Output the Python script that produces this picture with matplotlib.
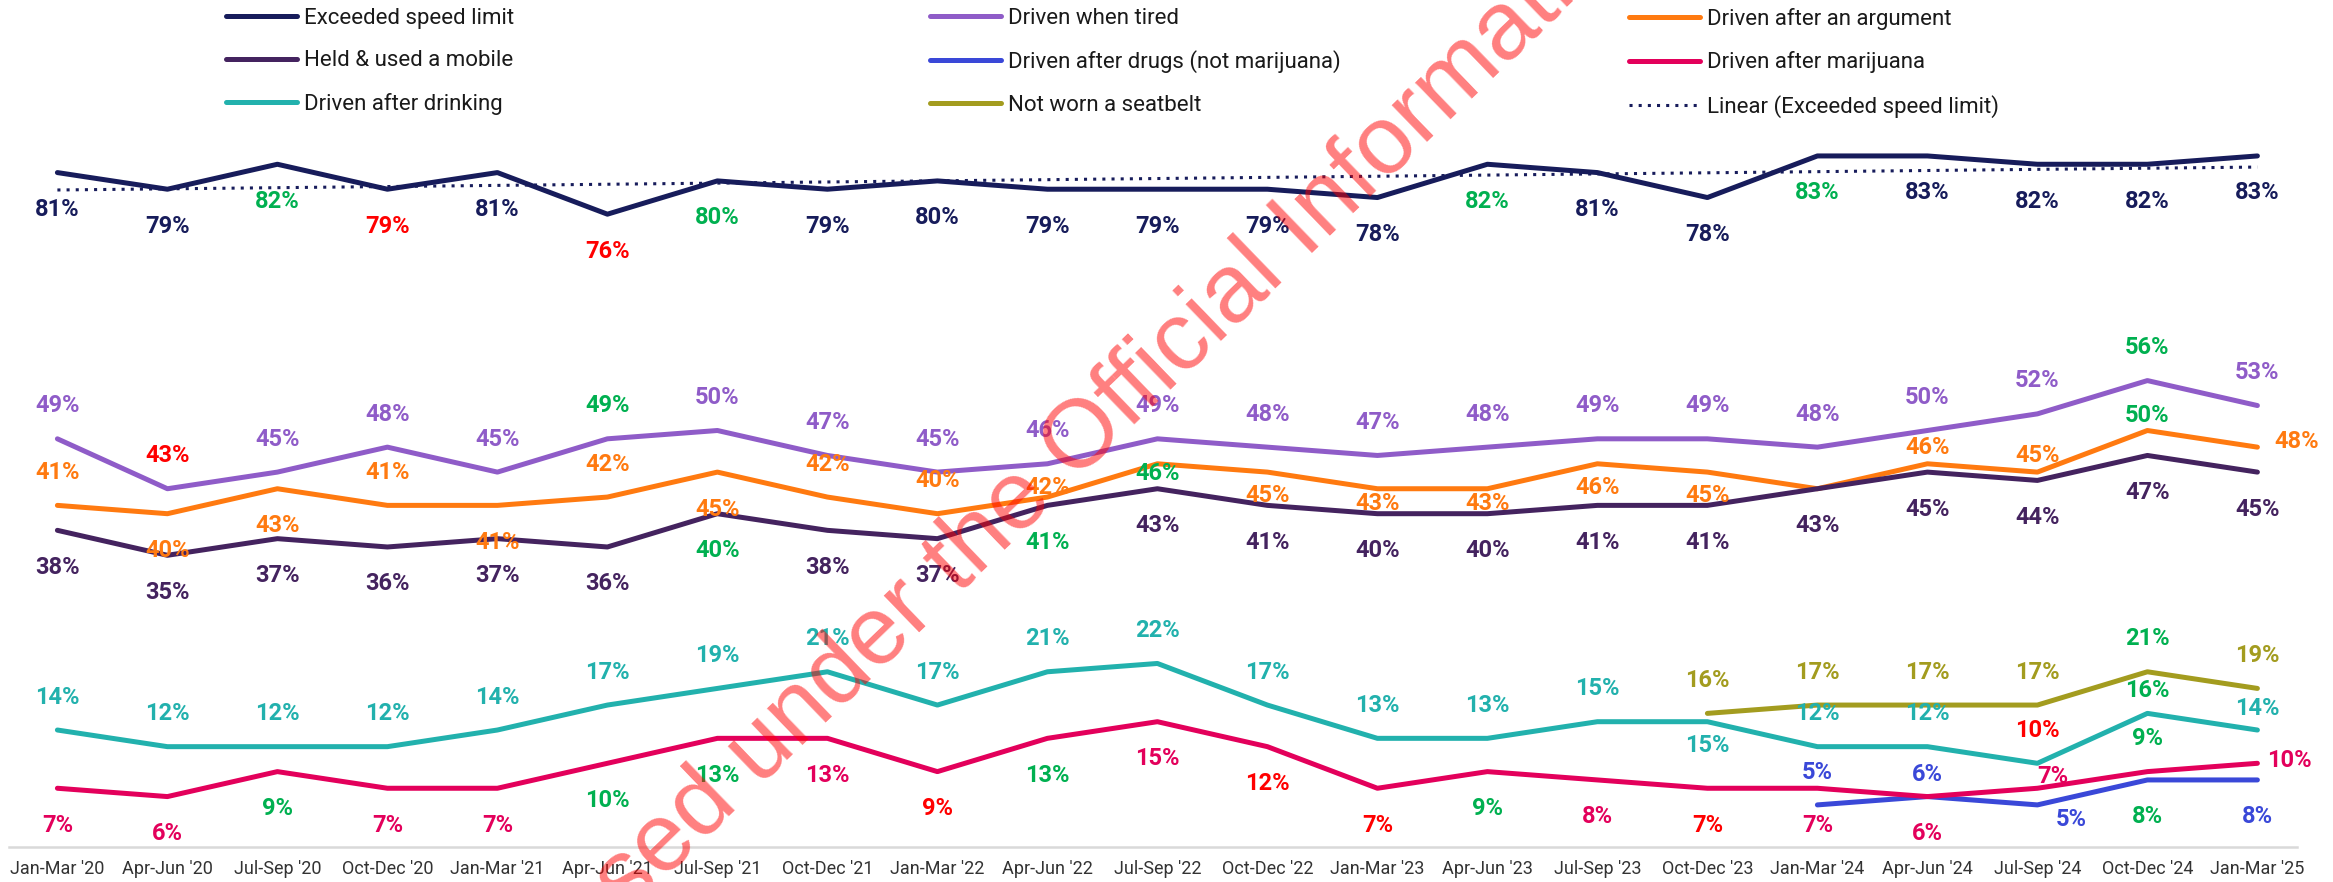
import numpy as np
import matplotlib
matplotlib.use("Agg")
import matplotlib.pyplot as plt

plt.rcParams['font.family'] = ['Roboto', 'DejaVu Sans']

quarters = ["Jan-Mar '20", "Apr-Jun '20", "Jul-Sep '20", "Oct-Dec '20",
            "Jan-Mar '21", "Apr-Jun '21", "Jul-Sep '21", "Oct-Dec '21",
            "Jan-Mar '22", "Apr-Jun '22", "Jul-Sep '22", "Oct-Dec '22",
            "Jan-Mar '23", "Apr-Jun '23", "Jul-Sep '23", "Oct-Dec '23",
            "Jan-Mar '24", "Apr-Jun '24", "Jul-Sep '24", "Oct-Dec '24",
            "Jan-Mar '25"]

speed = [81, 79, 82, 79, 81, 76, 80, 79, 80, 79, 79, 79, 78, 82, 81, 78, 83, 83, 82, 82, 83]
tired = [49, 43, 45, 48, 45, 49, 50, 47, 45, 46, 49, 48, 47, 48, 49, 49, 48, 50, 52, 56, 53]
argument = [41, 40, 43, 41, 41, 42, 45, 42, 40, 42, 46, 45, 43, 43, 46, 45, 43, 46, 45, 50, 48]
mobile = [38, 35, 37, 36, 37, 36, 40, 38, 37, 41, 43, 41, 40, 40, 41, 41, 43, 45, 44, 47, 45]
drinking = [14, 12, 12, 12, 14, 17, 19, 21, 17, 21, 22, 17, 13, 13, 15, 15, 12, 12, 10, 16, 14]
marijuana = [7, 6, 9, 7, 7, 10, 13, 13, 9, 13, 15, 12, 7, 9, 8, 7, 7, 6, 7, 9, 10]
drugs = [5, 6, 5, 8, 8]              # asked from Jan-Mar '24
seatbelt = [16, 17, 17, 17, 21, 19]  # asked from Oct-Dec '23

# significance vs previous: g = up, r = down
speed_sig = ['', '', 'g', 'r', '', 'r', 'g', '', '', '', '', '', '', 'g', '', '', 'g', '', '', '', '']
tired_sig = ['', 'r', '', '', '', 'g', '', '', '', '', '', '', '', '', '', '', '', '', '', 'g', '']
argument_sig = ['', '', '', '', '', '', '', '', '', '', 'g', '', '', '', '', '', '', '', '', 'g', '']
mobile_sig = ['', '', '', '', '', '', 'g', '', '', 'g', '', '', '', '', '', '', '', '', '', '', '']
drinking_sig = ['', '', '', '', '', '', '', '', '', '', '', '', '', '', '', '', '', '', 'r', 'g', '']
marijuana_sig = ['', '', 'g', '', '', 'g', 'g', '', 'r', 'g', '', 'r', 'r', 'g', '', 'r', '', '', '', 'g', '']
drugs_sig = ['', '', '', 'g', '']
seatbelt_sig = ['', '', '', '', 'g', '']

GREEN = '#00B050'
RED = '#FF0000'
c_speed = '#171C5B'
c_tired = '#8F5CC8'
c_arg = '#FF7A10'
c_mobile = '#44235F'
c_drugs = '#3A48D8'
c_mj = '#E3005B'
c_drink = '#22B1AD'
c_belt = '#A39C1F'

UP, DOWN = (0, 33), (0, -37)

fig = plt.figure(figsize=(23.33, 8.82), dpi=100)
ax = fig.add_axes([9 / 2333, 1 - 846.5 / 882, 2288 / 2333, 832 / 882])

x = np.arange(len(quarters))
x_drugs = x[16:]
x_belt = x[15:]

lw = 3.6
kw = dict(lw=lw, solid_capstyle='round', solid_joinstyle='round')
l_speed, = ax.plot(x, speed, color=c_speed, label='Exceeded speed limit', **kw)
l_tired, = ax.plot(x, tired, color=c_tired, label='Driven when tired', **kw)
l_arg, = ax.plot(x, argument, color=c_arg, label='Driven after an argument', **kw)
l_mobile, = ax.plot(x, mobile, color=c_mobile, label='Held & used a mobile', **kw)
l_drugs, = ax.plot(x_drugs, drugs, color=c_drugs, label='Driven after drugs (not marijuana)', **kw)
l_mj, = ax.plot(x, marijuana, color=c_mj, label='Driven after marijuana', **kw)
l_drink, = ax.plot(x, drinking, color=c_drink, label='Driven after drinking', **kw)
l_belt, = ax.plot(x_belt, seatbelt, color=c_belt, label='Not worn a seatbelt', **kw)

# linear trend of speeding
k, b = np.polyfit(x, speed, 1)
l_lin, = ax.plot(x, k * x + b, color=c_speed, lw=2.2, linestyle=(0, (1, 2)),
                 label='Linear (Exceeded speed limit)')


def add_labels(xs, vals, color, sig, offsets):
    for xi, v, s, off in zip(xs, vals, sig, offsets):
        if off is None:
            continue
        c = {'g': GREEN, 'r': RED}.get(s, color)
        ax.annotate(f"{v}%", (xi, v), xytext=off, textcoords='offset pixels',
                    ha='center', va='center', color=c, fontsize=17,
                    fontweight='bold', zorder=5)


arg_off = [UP, DOWN, DOWN, UP, DOWN, UP, DOWN, UP, UP, (0, 10), (0, -10),
           (0, -23), (0, -15), (0, -15), (0, -24), (0, -23), None,
           (0, 16), (0, 17), (0, 15), (39, 6)]
drink_off = [UP] * 21
drink_off[15] = (0, -24)
drink_off[19] = (0, 23)
drink_off[20] = (0, 22)
mj_off = [DOWN] * 21
mj_off[18] = (15, 12)
mj_off[19] = UP
mj_off[20] = (32, 3)
drugs_off = [(0, 32), (0, 22), (34, -15), DOWN, DOWN]

add_labels(x, speed, c_speed, speed_sig, [DOWN] * 21)
add_labels(x, tired, c_tired, tired_sig, [UP] * 21)
add_labels(x, argument, c_arg, argument_sig, arg_off)
add_labels(x, mobile, c_mobile, mobile_sig, [DOWN] * 21)
add_labels(x, drinking, c_drink, drinking_sig, drink_off)
add_labels(x, marijuana, c_mj, marijuana_sig, mj_off)
add_labels(x_drugs, drugs, c_drugs, drugs_sig, drugs_off)
add_labels(x_belt, seatbelt, c_belt, seatbelt_sig, [UP] * 6)

ax.set_xlim(-0.44, 20.36)
ax.set_ylim(0, 100)
ax.set_xticks(x)
ax.set_xticklabels(quarters, fontsize=13, color='#333333')
ax.tick_params(axis='x', length=0, pad=10)
ax.set_yticks([])
for s in ['top', 'right', 'left']:
    ax.spines[s].set_visible(False)
ax.spines['bottom'].set_color('#D9D9D9')
ax.spines['bottom'].set_linewidth(1.8)

# legend in three columns, placed separately
cols = [([l_speed, l_mobile, l_drink], 226),
        ([l_tired, l_drugs, l_belt], 930),
        ([l_arg, l_mj, l_lin], 1629)]
for handles, px in cols:
    fig.legend(handles=handles, loc='upper left',
               bbox_to_anchor=(px / 2333, 1 - 8 / 882), frameon=False,
               fontsize=16, handlelength=3.2, handletextpad=0.3,
               borderpad=0, borderaxespad=0, labelspacing=0.96,
               labelcolor='#1A1A1A')

fig.text(1091 / 2333, 1 - 432 / 882, "Released under the Official Information Act",
         rotation=44, rotation_mode='anchor', ha='center', va='center',
         fontsize=70, family='Liberation Sans', color='#FF0000', alpha=0.5,
         zorder=10)

fig.savefig('out.png', dpi=100)
